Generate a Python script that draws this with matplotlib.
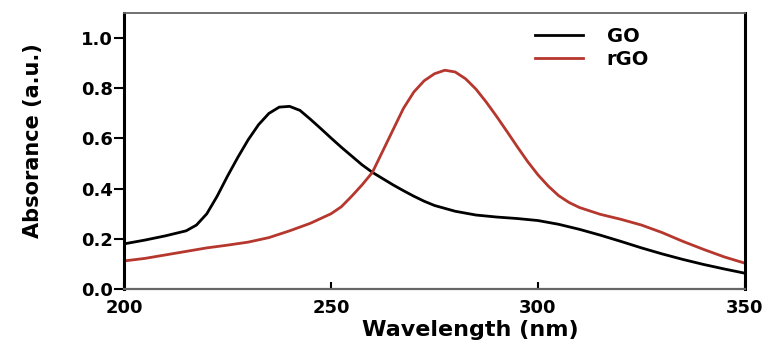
import numpy as np
import matplotlib.pyplot as plt

# wavelength (nm) and absorbance
wl_go = [200, 205, 210, 215, 217.5, 220, 222.5, 225, 227.5, 230, 232.5, 235, 237.5, 240,
         242.5, 245, 247.5, 250, 252.5, 255, 257.5, 260, 262.5, 265, 267.5, 270, 272.5,
         275, 280, 285, 290, 295, 300, 305, 310, 315, 320, 325, 330, 335, 340, 345, 350]
abs_go = [0.18, 0.195, 0.212, 0.232, 0.255, 0.30, 0.37, 0.45, 0.525, 0.595, 0.655, 0.70,
          0.725, 0.728, 0.712, 0.677, 0.64, 0.602, 0.565, 0.53, 0.495, 0.465, 0.44,
          0.415, 0.392, 0.37, 0.35, 0.333, 0.31, 0.295, 0.287, 0.281, 0.273, 0.258, 0.238,
          0.215, 0.19, 0.164, 0.14, 0.118, 0.098, 0.08, 0.063]

wl_rgo = [200, 205, 210, 215, 220, 225, 230, 235, 240, 245, 250, 252.5, 255, 257.5, 260,
          262.5, 265, 267.5, 270, 272.5, 275, 277.5, 280, 282.5, 285, 287.5, 290, 292.5,
          295, 297.5, 300, 302.5, 305, 307.5, 310, 315, 320, 325, 330, 335, 340, 345, 350]
abs_rgo = [0.112, 0.122, 0.136, 0.15, 0.164, 0.175, 0.187, 0.205, 0.232, 0.262, 0.30,
           0.328, 0.37, 0.415, 0.465, 0.55, 0.635, 0.72, 0.785, 0.83, 0.858, 0.872, 0.865,
           0.838, 0.797, 0.745, 0.688, 0.628, 0.567, 0.508, 0.455, 0.41, 0.372, 0.345,
           0.325, 0.298, 0.278, 0.255, 0.225, 0.19, 0.158, 0.128, 0.103]

xticks = [200, 250, 300, 350]
yticks = [0.0, 0.2, 0.4, 0.6, 0.8, 1.0]

fig = plt.figure(figsize=(7.77, 3.47), dpi=100)
ax = fig.add_axes([0.1596, 0.167, 0.7992, 0.7955])

ax.plot(wl_go, abs_go, color='black', lw=2.0, label='GO')
ax.plot(wl_rgo, abs_rgo, color='#b5372e', lw=2.0, label='rGO')

ax.set_xlim(200, 350)
ax.set_ylim(0, 1.1)
ax.set_xticks(xticks)
ax.set_yticks(yticks)
ax.set_yticklabels(['%.1f' % v for v in yticks])
ax.tick_params(axis='x', direction='in', length=5, width=1.5, labelsize=13, pad=7)
ax.tick_params(axis='y', direction='out', length=7, width=1.5, labelsize=13, pad=1)
for lab in ax.get_xticklabels() + ax.get_yticklabels():
    lab.set_fontweight('bold')

for side in ['left', 'right']:
    ax.spines[side].set_linewidth(2.2)
ax.spines['bottom'].set_linewidth(1.6)
ax.spines['bottom'].set_color('#666666')
ax.spines['top'].set_linewidth(1.3)
ax.spines['top'].set_color('#666666')

ax.set_xlabel('Wavelength (nm)', fontsize=16, fontweight='bold')
ax.xaxis.set_label_coords(0.557, -0.112)
ax.set_ylabel('Absorance (a.u.)', fontsize=15, fontweight='bold')
ax.yaxis.set_label_coords(-0.13, 0.536)

leg = ax.legend(loc='upper left', bbox_to_anchor=(0.633, 1.012), frameon=False,
                fontsize=14, handlelength=2.5, handletextpad=1.2, labelspacing=0.2)
for t in leg.get_texts():
    t.set_fontweight('bold')

fig.savefig('out.png', dpi=100)
